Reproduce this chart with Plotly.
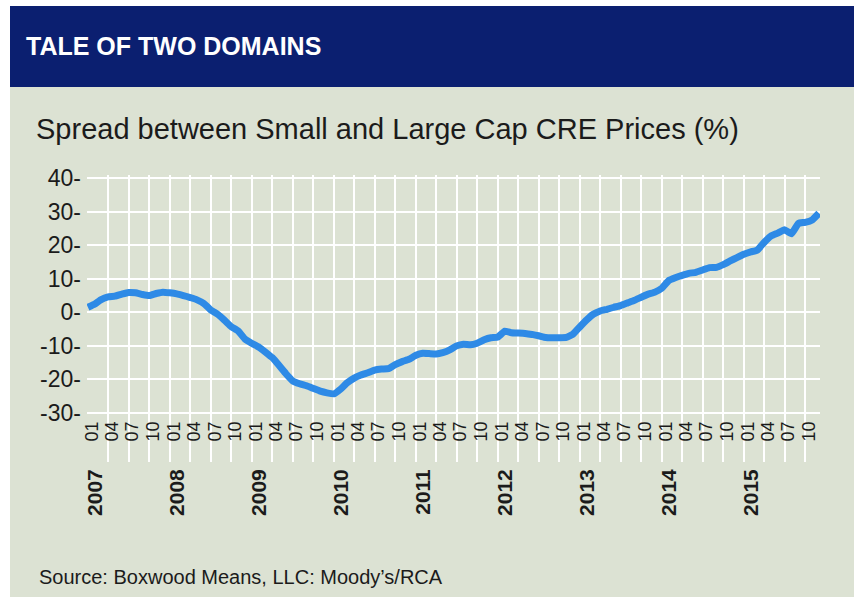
import plotly.graph_objects as go
import pandas as pd

# ---- data ----
months = pd.date_range("2007-01-01", "2015-12-01", freq="MS")
spread = [
    1.5, 2.5, 3.8, 4.6, 4.8, 5.4, 5.9, 5.8, 5.3, 5.0, 5.6, 6.0,          # 2007
    5.8, 5.5, 5.0, 4.4, 3.7, 2.6, 0.7, -0.6, -2.4, -4.3, -5.6, -8.0,     # 2008
    -9.3, -10.4, -11.8, -13.5, -15.8, -18.3, -20.4, -21.3, -21.9, -22.7, -23.5, -24.0,  # 2009
    -24.3, -22.8, -21.0, -19.6, -18.7, -18.0, -17.2, -16.9, -16.8, -15.6, -14.7, -14.0,  # 2010
    -12.8, -12.2, -12.3, -12.4, -12.0, -11.2, -10.0, -9.5, -9.7, -9.2, -8.2, -7.6,      # 2011
    -7.4, -5.6, -6.1, -6.2, -6.3, -6.6, -7.0, -7.5, -7.6, -7.6, -7.5, -6.5,             # 2012
    -4.3, -2.2, -0.6, 0.4, 0.9, 1.5, 2.0, 2.8, 3.6, 4.5, 5.4, 6.0,                      # 2013
    7.2, 9.5, 10.3, 11.0, 11.6, 11.9, 12.6, 13.3, 13.4, 14.2, 15.3, 16.3,               # 2014
    17.3, 18.0, 18.5, 20.8, 22.7, 23.6, 24.6, 23.4, 26.5, 26.8, 27.5, 29.5,             # 2015
]
quarter_ticks = pd.date_range("2007-01-01", "2015-10-01", freq="QS")
quarter_labels = [d.strftime("%m") for d in quarter_ticks]
year_ticks = pd.date_range("2007-01-01", "2015-01-01", freq="YS")
year_labels = [str(d.year) for d in year_ticks]
y_ticks = [-30, -20, -10, 0, 10, 20, 30, 40]
y_labels = [f"{v}-" for v in y_ticks]

title = "TALE OF TWO DOMAINS"
subtitle = "Spread between Small and Large Cap CRE Prices (%)"
source = "Source: Boxwood Means, LLC: Moody\u2019s/RCA"

# ---- figure geometry (pixels) ----
W, H = 854, 597
def px(x):
    return x / W
def py(y):
    return 1 - y / H

BODY = "#dce2d3"
PLOT = "#e1e6da"
NAVY = "#0b1f70"
LINE = "#2e8ae6"
INK = "#1b1b1b"
FONT = "Liberation Sans, Arial, sans-serif"

x_lo = pd.Timestamp("2006-12-28")
x_hi = pd.Timestamp("2015-12-06")

fig = go.Figure()
fig.add_trace(go.Scatter(
    x=months, y=spread, mode="lines",
    line=dict(color=LINE, width=7, shape="spline", smoothing=0.3),
    hoverinfo="x+y", showlegend=False,
))
# invisible trace for the year axis
fig.add_trace(go.Scatter(x=[months[0]], y=[None], xaxis="x2", showlegend=False, hoverinfo="skip"))

fig.update_layout(
    width=W, height=H,
    margin=dict(l=0, r=0, t=0, b=0, autoexpand=False),
    paper_bgcolor="white",
    plot_bgcolor=PLOT,
    font=dict(family=FONT, color=INK),
    xaxis=dict(
        domain=[px(87), px(820)],
        range=[x_lo, x_hi],
        tickmode="array", tickvals=quarter_ticks, ticktext=quarter_labels,
        tickangle=-90, tickfont=dict(size=18, color=INK),
        ticks="", showline=False, zeroline=False,
        showgrid=True, gridcolor="white", gridwidth=2,
        anchor="free", position=py(417),
        ticklabelshift=4, automargin=False,
    ),
    xaxis2=dict(
        overlaying="x", range=[x_lo, x_hi],
        tickmode="array", tickvals=year_ticks, ticktext=year_labels,
        tickangle=-90, tickfont=dict(size=21, color=INK, family=FONT, weight="bold"),
        ticks="", showline=False, zeroline=False, showgrid=False,
        anchor="free", position=py(464), side="bottom",
        ticklabelshift=7, automargin=False,
    ),
    yaxis=dict(
        domain=[py(462), py(175)],
        range=[-44.6, 40.9],
        tickmode="array", tickvals=y_ticks, ticktext=y_labels,
        tickfont=dict(size=23, color=INK),
        ticks="", showline=False, zeroline=False,
        showgrid=True, gridcolor="white", gridwidth=2,
        ticklabelstandoff=5, automargin=False,
    ),
    shapes=[
        dict(type="rect", xref="paper", yref="paper", x0=px(10), x1=1, y0=0, y1=py(87),
             fillcolor=BODY, line=dict(width=0), layer="below"),
        dict(type="rect", xref="paper", yref="paper", x0=px(10), x1=1, y0=py(87), y1=py(6),
             fillcolor=NAVY, line=dict(width=0), layer="below"),
    ],
    annotations=[
        dict(text=f"<b>{title}</b>", xref="paper", yref="paper", x=px(24), y=py(46),
             xanchor="left", yanchor="middle", showarrow=False,
             font=dict(family=FONT, size=25, color="white")),
        dict(text=subtitle, xref="paper", yref="paper", x=px(34), y=py(129),
             xanchor="left", yanchor="middle", showarrow=False,
             font=dict(size=29, color=INK)),
        dict(text=source, xref="paper", yref="paper", x=px(37), y=py(577),
             xanchor="left", yanchor="middle", showarrow=False,
             font=dict(size=20, color=INK)),
    ],
)

post = (
    "document.documentElement.style.margin='0';"
    "document.body.style.margin='0';document.body.style.padding='0';"
    "document.body.style.overflow='hidden';"
)
fig.write_html("out.html", config={"displayModeBar": False}, post_script=post)
